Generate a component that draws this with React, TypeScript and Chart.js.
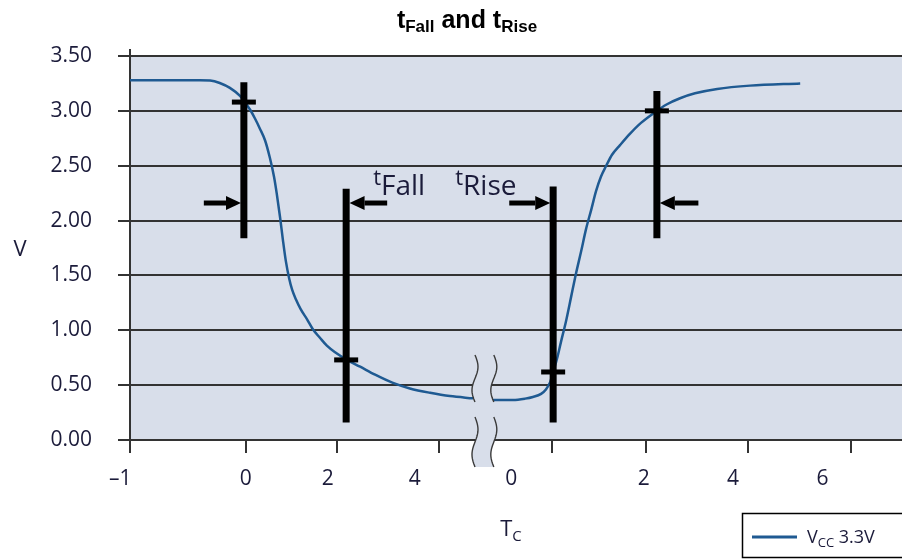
import React, { useEffect, useRef } from 'react';
import { Chart, registerables } from 'chart.js';

Chart.register(...registerables);

const W = 902;
const H = 560;

// Horizontal axis: diagram time, broken between the falling and the rising edge
const X_MIN = -2.4;
const X_MAX = 13.6;
const xTickMarks = [-2.4, 0, 1.9, 4.0, 6.35, 8.3, 10.4, 12.55];
const xLabelPos = [-2.6, 0, 1.7, 3.5, 5.5, 8.25, 10.1, 11.95];
const xLabelText = ['–1', '0', '2', '4', '0', '2', '4', '6'];

// Vertical axis: volts
const yTicks = [0, 0.5, 1.0, 1.5, 2.0, 2.5, 3.0, 3.5];

// Falling edge (V_CC 3.3V)
const fallT = [-2.4, -0.95, -0.74, -0.54, -0.33, -0.12, -0.02, 0.09, 0.19, 0.29, 0.4, 0.5, 0.585, 0.64, 0.71, 0.77, 0.83, 0.9, 0.96, 1.04, 1.14, 1.27, 1.39, 1.54, 1.68, 1.85, 2.1, 2.37, 2.68, 3.05, 3.4, 3.82, 4.23, 4.71];
const fallV = [3.28, 3.28, 3.277, 3.254, 3.209, 3.136, 3.08, 3.01, 2.93, 2.84, 2.73, 2.57, 2.4, 2.25, 2.03, 1.82, 1.63, 1.47, 1.37, 1.28, 1.19, 1.1, 1.01, 0.93, 0.86, 0.8, 0.73, 0.668, 0.595, 0.52, 0.47, 0.43, 0.4, 0.38];

// Rising edge (V_CC 3.3V)
const riseT = [5.12, 5.54, 5.79, 5.95, 6.12, 6.22, 6.31, 6.37, 6.45, 6.53, 6.64, 6.74, 6.84, 6.95, 7.05, 7.16, 7.26, 7.36, 7.47, 7.59, 7.76, 7.96, 8.19, 8.44, 8.73, 9.0, 9.31, 9.77, 10.45, 11.49];
const riseV = [0.365, 0.365, 0.377, 0.392, 0.42, 0.46, 0.53, 0.617, 0.74, 0.89, 1.09, 1.3, 1.51, 1.72, 1.92, 2.1, 2.27, 2.4, 2.5, 2.6, 2.69, 2.79, 2.89, 2.975, 3.06, 3.115, 3.16, 3.2, 3.23, 3.25];

// Measurement markers: vertical bar extent and the level where the edge is measured
const markerT = [-0.04, 2.08, 6.37, 8.52];
const markerTop = [3.26, 2.29, 2.31, 3.18];
const markerBottom = [1.84, 0.16, 0.16, 1.84];
const markerLevel = [3.08, 0.73, 0.62, 3.0];

// Arrows pointing at the markers
const arrowTail = [-0.87, 2.93, 5.46, 9.38];
const arrowTip = [-0.1, 2.15, 6.31, 8.58];
const ARROW_V = 2.16;

// Annotation texts: [prefix, subscript], left edge time and baseline volts
const noteText = [['t', 'Fall'], ['t', 'Rise']];
const noteT = [2.64, 4.34];
const NOTE_V = 2.233;

// Axis break region
const BREAK = { left: 4.75, right: 5.14, top: 0.775, gapTop: 0.346, gapBottom: 0.21, bottom: -0.246 };

const PLOT_BG = '#d8deea';
const LINE_COLOR = '#1f5a92';
const TEXT_COLOR = '#1b1b3a';
const GRID_COLOR = '#333333';
const SANS = '"Open Sans", "DejaVu Sans", sans-serif';

type Run = { text: string; size: number; dy?: number };

function drawRuns(
  ctx: CanvasRenderingContext2D,
  runs: Run[],
  x: number,
  baseline: number,
  align: 'left' | 'center',
  weight: string,
  family: string,
  color: string
) {
  ctx.save();
  ctx.fillStyle = color;
  ctx.textAlign = 'left';
  ctx.textBaseline = 'alphabetic';
  const widths = runs.map((r) => {
    ctx.font = `${weight} ${r.size}px ${family}`;
    return ctx.measureText(r.text).width;
  });
  const total = widths.reduce((a, b) => a + b, 0);
  let cx = align === 'center' ? x - total / 2 : x;
  runs.forEach((r, i) => {
    ctx.font = `${weight} ${r.size}px ${family}`;
    ctx.fillText(r.text, cx, baseline + (r.dy || 0));
    cx += widths[i];
  });
  ctx.restore();
}

const backgroundPlugin = {
  id: 'plotBackground',
  beforeDraw(chart: any) {
    const { ctx, chartArea } = chart;
    ctx.save();
    ctx.fillStyle = '#ffffff';
    ctx.fillRect(0, 0, chart.width, chart.height);
    ctx.fillStyle = PLOT_BG;
    ctx.fillRect(chartArea.left, chartArea.top, chartArea.right - chartArea.left, chartArea.bottom - chartArea.top);
    ctx.restore();
  },
};

const overlayPlugin = {
  id: 'edgeOverlay',
  afterDraw(chart: any) {
    const { ctx, chartArea } = chart;
    const xs = chart.scales.x;
    const ys = chart.scales.y;
    const px = (t: number) => xs.getPixelForValue(t);
    const py = (v: number) => ys.getPixelForValue(v);

    // vertical axis line runs slightly above the top gridline
    ctx.save();
    ctx.strokeStyle = GRID_COLOR;
    ctx.lineWidth = 2;
    ctx.beginPath();
    ctx.moveTo(chartArea.left, chartArea.top - 7);
    ctx.lineTo(chartArea.left, chartArea.top);
    ctx.stroke();
    ctx.restore();

    // axis break: cover grid, axis and trace between two wavy cuts
    const xl = px(BREAK.left);
    const xr = px(BREAK.right);
    const yTop = py(BREAK.top);
    const yGapTop = py(BREAK.gapTop);
    const yGapBottom = py(BREAK.gapBottom);
    const yBottom = py(BREAK.bottom);
    const amp = 3;
    const wave = (cx: number, y0: number, y1: number, y: number) =>
      cx + amp * Math.sin((2 * Math.PI * (y - y0)) / (y1 - y0));
    const edge = (cx: number, y: number) => {
      if (y <= yGapTop) return wave(cx, yTop, yGapTop, y);
      if (y >= yGapBottom) return wave(cx, yGapBottom, yBottom, y);
      return cx;
    };
    ctx.save();
    ctx.beginPath();
    const steps = 60;
    for (let i = 0; i <= steps; i++) {
      const y = yTop + ((yBottom - yTop) * i) / steps;
      const x = edge(xl, y);
      if (i === 0) ctx.moveTo(x, y);
      else ctx.lineTo(x, y);
    }
    for (let i = steps; i >= 0; i--) {
      const y = yTop + ((yBottom - yTop) * i) / steps;
      ctx.lineTo(edge(xr, y), y);
    }
    ctx.closePath();
    ctx.fillStyle = PLOT_BG;
    ctx.fill();
    ctx.strokeStyle = '#3a3a3a';
    ctx.lineWidth = 1.4;
    [xl, xr].forEach((cx) => {
      [[yTop, yGapTop], [yGapBottom, yBottom]].forEach(([a, b]) => {
        ctx.beginPath();
        for (let i = 0; i <= 30; i++) {
          const y = a + ((b - a) * i) / 30;
          const x = wave(cx, a, b, y);
          if (i === 0) ctx.moveTo(x, y);
          else ctx.lineTo(x, y);
        }
        ctx.stroke();
      });
    });
    ctx.restore();

    // measurement bars with level ticks
    ctx.save();
    ctx.strokeStyle = '#000';
    ctx.fillStyle = '#000';
    markerT.forEach((t, i) => {
      const x = px(t);
      ctx.lineWidth = 7;
      ctx.beginPath();
      ctx.moveTo(x, py(markerTop[i]));
      ctx.lineTo(x, py(markerBottom[i]));
      ctx.stroke();
      const yl = py(markerLevel[i]);
      ctx.fillRect(x - 12, yl - 2.5, 24, 5);
    });

    // arrows
    arrowTail.forEach((tail, i) => {
      const x0 = px(tail);
      const x1 = px(arrowTip[i]);
      const y = py(ARROW_V);
      const dir = Math.sign(x1 - x0);
      const head = 15;
      ctx.lineWidth = 5;
      ctx.beginPath();
      ctx.moveTo(x0, y);
      ctx.lineTo(x1 - dir * head, y);
      ctx.stroke();
      ctx.beginPath();
      ctx.moveTo(x1, y);
      ctx.lineTo(x1 - dir * head, y - 7);
      ctx.lineTo(x1 - dir * head, y + 7);
      ctx.closePath();
      ctx.fill();
    });
    ctx.restore();

    // t_Fall / t_Rise annotations
    noteText.forEach(([a, b], i) => {
      drawRuns(
        ctx,
        [
          { text: a, size: 22, dy: -10 },
          { text: b, size: 28 },
        ],
        px(noteT[i]),
        py(NOTE_V),
        'left',
        '400',
        SANS,
        TEXT_COLOR
      );
    });

    // title
    drawRuns(
      ctx,
      [
        { text: 't', size: 25 },
        { text: 'Fall', size: 17, dy: 4 },
        { text: ' and ', size: 25 },
        { text: 't', size: 25 },
        { text: 'Rise', size: 17, dy: 4 },
      ],
      467,
      28,
      'center',
      'bold',
      '"Liberation Sans", Arial, sans-serif',
      '#000'
    );

    // axis titles
    drawRuns(ctx, [{ text: 'V', size: 22 }], 20, 256, 'center', '400', SANS, TEXT_COLOR);
    drawRuns(
      ctx,
      [
        { text: 'T', size: 22 },
        { text: 'C', size: 15, dy: 5 },
      ],
      511,
      536,
      'center',
      '400',
      SANS,
      TEXT_COLOR
    );

    // legend
    ctx.save();
    ctx.fillStyle = '#ffffff';
    ctx.fillRect(742, 513, 170, 45);
    ctx.strokeStyle = '#000';
    ctx.lineWidth = 1.5;
    ctx.strokeRect(742.5, 513.5, 170, 44);
    ctx.strokeStyle = LINE_COLOR;
    ctx.lineWidth = 3;
    ctx.beginPath();
    ctx.moveTo(752, 537);
    ctx.lineTo(797, 537);
    ctx.stroke();
    ctx.restore();
    drawRuns(
      ctx,
      [
        { text: 'V', size: 18 },
        { text: 'CC', size: 13, dy: 4 },
        { text: ' 3.3V', size: 18 },
      ],
      807,
      543,
      'left',
      '400',
      SANS,
      TEXT_COLOR
    );
  },
};

const curve = [
  ...fallT.map((t, i) => ({ x: t, y: fallV[i] as number | null })),
  { x: (fallT[fallT.length - 1] + riseT[0]) / 2, y: null },
  ...riseT.map((t, i) => ({ x: t, y: riseV[i] as number | null })),
];

export default function App() {
  const ref = useRef<HTMLCanvasElement>(null);

  useEffect(() => {
    if (!ref.current) return;
    const chart = new Chart(ref.current, {
      type: 'line',
      data: {
        datasets: [
          {
            label: 'VCC 3.3V',
            data: curve as any,
            borderColor: LINE_COLOR,
            borderWidth: 2.5,
            pointRadius: 0,
            cubicInterpolationMode: 'monotone',
            spanGaps: false,
            xAxisID: 'x',
            yAxisID: 'y',
          },
        ],
      },
      options: {
        animation: false,
        responsive: false,
        devicePixelRatio: 1,
        events: [],
        layout: { padding: { top: 56, right: 0, bottom: 67, left: 0 } },
        plugins: {
          legend: { display: false },
          title: { display: false },
          tooltip: { enabled: false },
        },
        scales: {
          x: {
            type: 'linear',
            position: 'bottom',
            min: X_MIN,
            max: X_MAX,
            afterBuildTicks: (s: any) => {
              s.ticks = xTickMarks.map((v) => ({ value: v }));
            },
            afterFit: (s: any) => {
              s.height = 13;
            },
            grid: { drawOnChartArea: false, color: GRID_COLOR, lineWidth: 2, tickLength: 13 },
            border: { color: GRID_COLOR, width: 2 },
            ticks: { display: false },
          },
          xl: {
            type: 'linear',
            position: 'bottom',
            min: X_MIN,
            max: X_MAX,
            afterBuildTicks: (s: any) => {
              s.ticks = xLabelPos.map((v) => ({ value: v }));
            },
            afterFit: (s: any) => {
              s.height = 40;
            },
            grid: { display: false, drawTicks: false },
            border: { display: false },
            ticks: {
              autoSkip: false,
              maxRotation: 0,
              padding: 13,
              color: TEXT_COLOR,
              font: { family: SANS, size: 21 },
              callback: (_v: any, i: number) => xLabelText[i],
            },
          },
          y: {
            min: 0,
            max: 3.5,
            afterBuildTicks: (s: any) => {
              s.ticks = yTicks.map((v) => ({ value: v }));
            },
            afterFit: (s: any) => {
              s.width = 130;
            },
            grid: { color: GRID_COLOR, lineWidth: 2, tickLength: 12 },
            border: { color: GRID_COLOR, width: 2 },
            ticks: {
              padding: 26,
              color: TEXT_COLOR,
              font: { family: SANS, size: 21 },
              callback: (v: any) => Number(v).toFixed(2),
            },
          },
        },
      },
      plugins: [backgroundPlugin, overlayPlugin],
    });
    return () => chart.destroy();
  }, []);

  return (
    <div style={{ position: 'absolute', left: 0, top: 0, width: W, height: H, background: '#fff' }}>
      <canvas ref={ref} width={W} height={H} style={{ display: 'block' }} />
    </div>
  );
}
